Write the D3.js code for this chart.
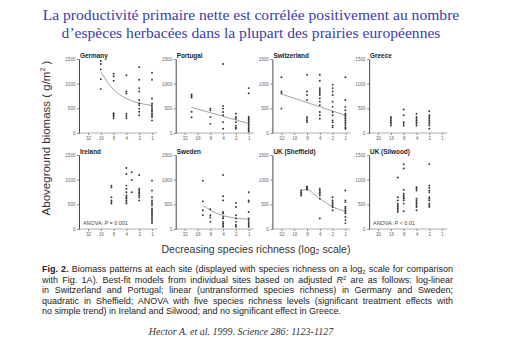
<!DOCTYPE html>
<html>
<head>
<meta charset="utf-8">
<script src="https://cdn.jsdelivr.net/npm/d3@7"></script>
<style>
  body { margin: 0; background: #fff; }
  text { font-family: "Liberation Sans", Arial, sans-serif; }
</style>
</head>
<body>
<div id="chart"></div>
<script>
// species richness levels shown on each log2 axis
const richTicks = [32, 16, 8, 4, 2, 1];
const biomassTicks = [0, 500, 1000, 1500];
const siteNames = ["Germany", "Portugal", "Switzerland", "Greece",
                   "Ireland", "Sweden", "UK (Sheffield)", "UK (Silwood)"];

// biomass (g/m2) per plot, grouped by richness level
const germany = [
  [16, [1460, 1400, 1290, 1090, 890]],
  [8, [1200, 1150, 1060, 400, 370, 340, 300]],
  [4, [1170, 840, 800, 390, 345, 300]],
  [2, [1335, 1080, 910, 840, 670, 600, 565, 495, 430, 360]],
  [1, [1220, 1080, 700, 600, 565, 530, 495, 460, 430, 390, 360, 325, 255]]
];
const portugal = [
  [22, [780, 750, 720, 430, 320]],
  [8, [495, 460, 325, 185]],
  [4, [1400, 545, 495, 425, 360, 220, 85]],
  [2, [390, 325, 290, 220, 150, 115, 85]],
  [1, [910, 805, 330, 300, 270, 240, 210, 180, 150, 120, 90, 60, 30]]
];
const switzerland = [
  [32, [1130, 840, 805, 495]],
  [8, [1180, 840, 770, 670, 325, 290, 255, 220]],
  [4, [1180, 1060, 910, 875, 840, 805, 770, 700, 635, 565, 425, 360, 290]],
  [2, [980, 910, 840, 770, 635, 530, 425, 360, 255, 220, 150, 115]],
  [1, [1130, 670, 530, 460, 390, 360, 325, 290, 255, 220, 185, 150, 115, 85]]
];
const greece = [
  [16, [325, 290, 255, 220, 185, 150]],
  [8, [475, 360, 220, 185, 150]],
  [4, [390, 325, 290, 255, 220, 185, 150]],
  [2, [440, 360, 325, 290, 255, 220, 185, 150, 85]]
];
const ireland = [
  [9, [880, 845, 645, 580, 545, 515]],
  [4, [1235, 1115, 880, 815, 745, 680, 645, 615, 580, 545, 515]],
  [3, [1150, 995, 745]],
  [2, [1095, 815, 780, 745, 715, 680, 645, 580]],
  [1, [980, 780, 645, 580, 545, 515, 480, 415, 380, 345, 315, 280, 245, 215, 180, 145, 115]]
];
const sweden = [
  [12, [980, 560, 380, 280]],
  [8, [400, 280, 235, 145]],
  [4, [1095, 665, 580, 345, 315, 245, 215, 145, 115, 80, 45]],
  [2, [525, 445, 280, 215, 145, 80, 45]],
  [1, [745, 580, 545, 345, 215, 180, 145, 115, 80, 45]]
];
const sheffield = [
  [11, [780, 745, 715, 680]],
  [8, [860, 835, 815, 795]],
  [4, [815, 780, 745, 715, 680, 615, 215]],
  [2, [645, 580, 545, 515, 480, 445, 380]],
  [1, [780, 580, 545, 445, 415, 380, 345, 315, 245, 180, 115]]
];
const silwood = [
  [11, [1045, 645, 580, 515, 480, 445, 415, 380, 345]],
  [8, [1315, 1225, 795, 715, 680, 645, 615, 580, 515, 360]],
  [4, [845, 815, 780, 615, 580, 545, 515, 480, 445, 380]],
  [2, [1315, 880, 835, 780, 745, 645, 615, 580, 515, 480, 445]]
];

// fitted curves: [richness, biomass]
const germanyFit = [[16, 1250], [11.3, 1035], [8, 880], [5.7, 775], [4, 700], [2.8, 645], [2, 605], [1.4, 580], [1, 560]];
const portugalFit = [[22, 520], [1, 190]];
const switzerlandFit = [[32, 790], [1, 360]];
const swedenFit = [[12, 480], [8, 385], [5.7, 320], [4, 270], [2.8, 240], [2, 220], [1.4, 208], [1, 200]];
const sheffieldFit = [[11, 780], [8, 805], [5.7, 720], [4, 615], [2.8, 530], [2, 450], [1.4, 395], [1, 360]];

const siteData = [germany, portugal, switzerland, greece, ireland, sweden, sheffield, silwood];
const siteFits = [germanyFit, portugalFit, switzerlandFit, null, null, swedenFit, sheffieldFit, null];
const siteNotes = [null, null, null, null, "= 0.001", null, null, "< 0.01"];

const svg = d3.select("#chart").append("svg")
    .attr("width", 518)
    .attr("height", 353);

// Title
const title = svg.append("text")
    .attr("text-anchor", "middle")
    .style("font-family", "'Liberation Serif', 'Times New Roman', serif")
    .style("font-size", "15.6px")
    .attr("fill", "#3b3bb0");
title.append("tspan").attr("x", 251).attr("y", 20)
    .text("La productivité primaire nette est corrélée positivement au nombre");
title.append("tspan").attr("x", 251).attr("y", 38)
    .text("d\u2019espèces herbacées dans la plupart des prairies européennes");

// Panels
siteNames.forEach((name, i) => {
    const col = i % 4, row = Math.floor(i / 4);
    const left = 79 + col * 96.7;
    const bottom = row ? 229 : 133;

    const x = d3.scaleLog().base(2)
        .domain([32, 1])
        .range([left + 9, left + 73]);
    const y = d3.scaleLinear()
        .domain([0, 1500])
        .range([bottom, bottom - 74]);

    const g = svg.append("g");

    // x axis
    g.append("line")
        .attr("x1", left).attr("x2", left + 78)
        .attr("y1", bottom).attr("y2", bottom)
        .attr("stroke", "#9a9a9a").attr("stroke-width", 0.8);
    const xa = g.append("g")
        .attr("transform", `translate(0,${bottom})`)
        .call(d3.axisBottom(x).tickValues(richTicks).tickFormat(d3.format("d")).tickSize(2).tickPadding(1.5));
    xa.select(".domain").remove();
    xa.selectAll("line").attr("stroke", "#8a8a8a");
    xa.selectAll("text").attr("fill", "#666").style("font-size", "4.6px");

    // y axis
    const ya = g.append("g")
        .attr("transform", `translate(${left},0)`)
        .call(d3.axisLeft(y).tickValues(biomassTicks).tickFormat(d3.format("d"))
            .tickSizeInner(2).tickSizeOuter(0).tickPadding(1.5));
    ya.select(".domain").attr("stroke", "#333").attr("stroke-width", 0.9);
    ya.selectAll(".tick line").attr("stroke", "#888");
    ya.selectAll("text").attr("fill", "#666").style("font-size", "4.6px");

    // panel title
    g.append("text")
        .attr("x", left + 1)
        .attr("y", bottom - 75)
        .style("font-size", "6.4px")
        .style("font-weight", "bold")
        .attr("fill", "#222")
        .text(name);

    // fit curve
    if (siteFits[i]) {
        g.append("path")
            .datum(siteFits[i])
            .attr("fill", "none")
            .attr("stroke", "#8c8c8c")
            .attr("stroke-width", 0.8)
            .attr("d", d3.line().x(d => x(d[0])).y(d => y(d[1])).curve(d3.curveMonotoneX));
    }

    // points
    const pts = siteData[i].flatMap(([r, vals]) => vals.map(v => ({ r, v })));
    g.selectAll(".pt")
        .data(pts)
        .enter().append("circle")
        .attr("class", "pt")
        .attr("cx", d => x(d.r))
        .attr("cy", d => y(d.v))
        .attr("r", 0.95)
        .attr("fill", "#333");

    // ANOVA note
    if (siteNotes[i]) {
        const note = g.append("text")
            .attr("x", left + 4)
            .attr("y", bottom - 4)
            .style("font-size", "5.4px")
            .attr("fill", "#444");
        note.append("tspan").text("ANOVA: ");
        note.append("tspan").style("font-style", "italic").text("P");
        note.append("tspan").text(" " + siteNotes[i]);
    }
});

// y axis label
const yl = svg.append("text")
    .attr("transform", "translate(50,138) rotate(-90)")
    .attr("text-anchor", "middle")
    .style("font-size", "11.5px")
    .attr("fill", "#333");
yl.append("tspan").text("Aboveground biomass ( g/m");
yl.append("tspan").attr("dy", -5).style("font-size", "7px").text("2");
yl.append("tspan").attr("dy", 5).text(" )");

// x axis label
const xl = svg.append("text")
    .attr("x", 256)
    .attr("y", 253)
    .attr("text-anchor", "middle")
    .style("font-size", "10.5px")
    .attr("fill", "#333");
xl.append("tspan").text("Decreasing species richness (log");
xl.append("tspan").style("font-size", "7px").attr("dy", 1).text("2");
xl.append("tspan").attr("dy", -1).text(" scale)");

// caption, justified by word spacing
const capLines = [
    [["b", "Fig. 2."], ["", " Biomass patterns at each site (displayed with species richness on a log"], ["sub", "2"], ["", " scale for comparison"]],
    [["", "with Fig. 1A). Best-fit models from individual sites based on adjusted "], ["i", "R"], ["sup", "2"], ["", " are as follows: log-linear"]],
    [["", "in Switzerland and Portugal; linear (untransformed species richness) in Germany and Sweden;"]],
    [["", "quadratic in Sheffield; ANOVA with five species richness levels (significant treatment effects with"]],
    [["", "no simple trend) in Ireland and Silwood; and no significant effect in Greece."]]
];
const capWidth = 411;
capLines.forEach((parts, li) => {
    const t = svg.append("text")
        .attr("x", 42)
        .attr("y", 272 + li * 10.6)
        .style("font-size", "9px")
        .attr("fill", "#222");
    let shift = 0;
    parts.forEach(([k, s]) => {
        const sp = t.append("tspan").text(s);
        let dy = -shift;
        if (k === "b") sp.style("font-weight", "bold");
        if (k === "i") sp.style("font-style", "italic");
        if (k === "sub") { sp.style("font-size", "5.8px"); dy += 1.5; shift = 1.5; }
        else if (k === "sup") { sp.style("font-size", "5.8px"); dy += -2.5; shift = -2.5; }
        else shift = 0;
        if (dy) sp.attr("dy", dy);
    });
    if (li < capLines.length - 1) {
        const natural = t.node().getComputedTextLength();
        const gaps = parts.map(p => p[1]).join("").split(" ").length - 1;
        t.style("word-spacing", ((capWidth - natural) / gaps) + "px");
    }
});

// citation
svg.append("text")
    .attr("x", 241)
    .attr("y", 335)
    .attr("text-anchor", "middle")
    .style("font-family", "'Liberation Serif', 'Times New Roman', serif")
    .style("font-style", "italic")
    .style("font-size", "10px")
    .attr("fill", "#333")
    .text("Hector A. et al. 1999. Science 286: 1123-1127");
</script>
</body>
</html>
